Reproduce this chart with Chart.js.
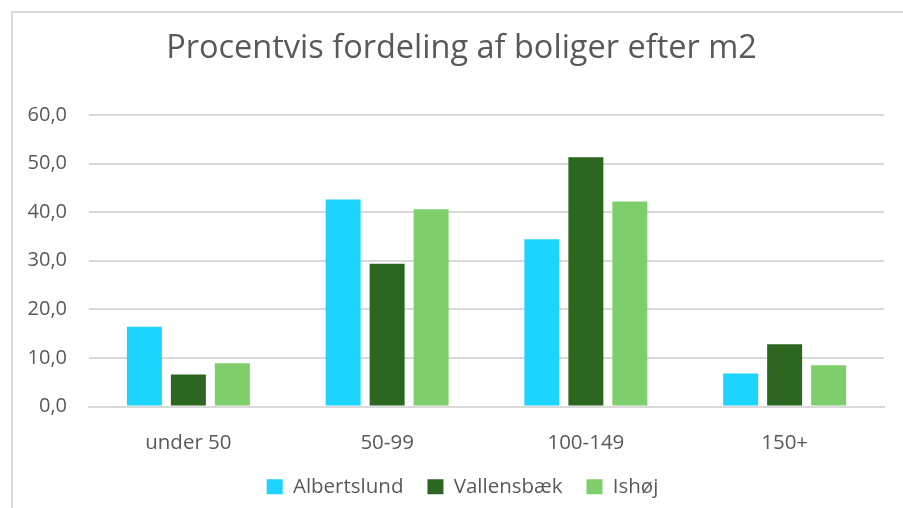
<!DOCTYPE html>
<html lang="da">
<head>
  <meta charset="UTF-8">
  <title>Procentvis fordeling af boliger efter m2</title>
  <script src="https://cdn.jsdelivr.net/npm/chart.js"></script>
  <style>
    html, body { margin: 0; padding: 0; background: #fff; }
    #wrap { position: relative; width: 903px; height: 508px; }
    #frame { position: absolute; left: 11px; top: 11px; right: -4px; bottom: -4px;
             border-left: 2px solid #d9d9d9; border-top: 2px solid #d9d9d9; }
    canvas { position: absolute; left: 0; top: 0; }
  </style>
</head>
<body>
  <div id="wrap">
    <div id="frame"></div>
    <canvas id="chart" width="903" height="508"></canvas>
  </div>

  <script>
    const categories = ["under 50", "50-99", "100-149", "150+"];
    const albertslund = [16.4, 42.6, 34.4, 6.8];
    const vallensbaek = [6.6, 29.4, 51.3, 12.8];
    const ishoej = [8.9, 40.6, 42.2, 8.5];

    const font = "'Open Sans', 'DejaVu Sans', sans-serif";
    const grey = "#595959";

    // titel og legende sidder lidt til højre for midten i originalen
    const shiftBlocks = {
      id: "shiftBlocks",
      afterLayout(chart) {
        chart.legend.left += 15;
        chart.legend.right += 15;
        chart.titleBlock.left += 14;
        chart.titleBlock.right += 14;
      }
    };

    const ctx = document.getElementById("chart").getContext("2d");
    new Chart(ctx, {
      type: "bar",
      data: {
        labels: categories,
        datasets: [
          { label: "Albertslund", data: albertslund, backgroundColor: "#1dd3ff" },
          { label: "Vallensbæk", data: vallensbaek, backgroundColor: "#2c6621" },
          { label: "Ishøj", data: ishoej, backgroundColor: "#7ecf6b" }
        ]
      },
      plugins: [shiftBlocks],
      options: {
        responsive: false,
        animation: false,
        categoryPercentage: 0.664,
        barPercentage: 0.795,
        layout: { padding: { left: 11, right: 19, top: 18, bottom: 1 } },
        plugins: {
          title: {
            display: true,
            text: "Procentvis fordeling af boliger efter m2",
            color: grey,
            font: { family: font, size: 32.5, weight: "normal" },
            padding: { top: 11, bottom: 47 }
          },
          legend: {
            position: "bottom",
            labels: {
              color: grey,
              font: { family: font, size: 20.5 },
              boxWidth: 16,
              boxHeight: 15,
              padding: 24
            }
          },
          tooltip: { enabled: false }
        },
        scales: {
          x: {
            grid: { display: false },
            border: { color: "#d9d9d9", width: 2 },
            ticks: { color: grey, font: { family: font, size: 20.5 }, padding: 16 },
            afterFit: s => { s.height = 46; }
          },
          y: {
            min: 0,
            max: 60,
            grid: { color: "#d9d9d9", lineWidth: 2, drawTicks: false },
            border: { display: false },
            ticks: {
              stepSize: 10,
              color: grey,
              font: { family: font, size: 20 },
              padding: 22,
              callback: v => v.toFixed(1).replace(".", ",")
            },
            afterFit: s => { s.width = 78; }
          }
        }
      }
    });
  </script>
</body>
</html>
